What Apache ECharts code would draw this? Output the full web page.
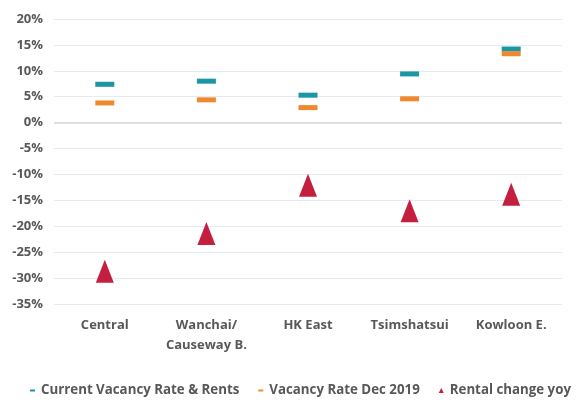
<!DOCTYPE html>
<html><head><meta charset="utf-8">
<script src="https://cdn.jsdelivr.net/npm/echarts@6/dist/echarts.min.js"></script>
<style>html,body{margin:0;padding:0;background:#fff}#c{width:577px;height:400px}</style>
</head><body><div id="c"></div>
<script>
var categories = ['Central', 'Wanchai/\nCauseway B.', 'HK East', 'Tsimshatsui', 'Kowloon E.'];
var currentVacancy = [7.4, 8.0, 5.3, 9.4, 14.2];
var vacancyDec2019 = [3.8, 4.4, 2.9, 4.6, 13.3];
var rentalChange = [-28.7, -21.4, -12.1, -17.0, -13.8];
var yTicks = [-35, -30, -25, -20, -15, -10, -5, 0, 5, 10, 15, 20];

var FONT = 'Open Sans';
var TXT = '#58585a';
var chart = echarts.init(document.getElementById('c'));
chart.setOption({
  animation: false,
  grid: {left: 54, right: 15, top: 19, bottom: 96},
  legend: {
    top: 384, left: 30, width: 560, padding: 0,
    itemWidth: 5, itemHeight: 5, itemGap: 19,
    textStyle: {fontFamily: FONT, fontWeight: 'bold', fontSize: 13.3, color: TXT, padding: [0,0,0,1]},
    data: [
      {name: 'Current Vacancy Rate & Rents', icon: 'path://M0,0h5v2h-5z'},
      {name: 'Vacancy Rate Dec 2019', icon: 'path://M0,0h5v2h-5z'},
      {name: 'Rental change yoy', icon: 'triangle'}
    ]
  },
  xAxis: {
    type: 'category', data: categories,
    axisLine: {show: false}, axisTick: {show: false},
    axisLabel: {interval: 0, fontFamily: FONT, fontWeight: 'bold', fontSize: 13, color: TXT, margin: 11, lineHeight: 20}
  },
  yAxis: {
    type: 'value', min: yTicks[0], max: yTicks[yTicks.length-1], interval: 5,
    axisLine: {show: false}, axisTick: {show: false},
    axisLabel: {fontFamily: FONT, fontWeight: 'bold', fontSize: 13, color: TXT, margin: 11,
      formatter: function(v){ return v + '%'; }},
    splitLine: {lineStyle: {color: '#e6ebf2', width: 1}}
  },
  series: [
    {name: 'Current Vacancy Rate & Rents', type: 'scatter', data: currentVacancy,
     symbol: 'rect', symbolSize: [19, 5], itemStyle: {color: '#1b96a5', opacity: 1}, z: 3,
     markLine: {silent: true, symbol: 'none', label: {show: false},
       lineStyle: {color: '#d6d6d6', type: 'solid', width: 1.5}, data: [{yAxis: 0}]}},
    {name: 'Vacancy Rate Dec 2019', type: 'scatter', data: vacancyDec2019,
     symbol: 'rect', symbolSize: [19, 5], itemStyle: {color: '#ee8a2d', opacity: 1}, z: 3},
    {name: 'Rental change yoy', type: 'scatter', data: rentalChange,
     symbol: 'triangle', symbolSize: [18, 23], itemStyle: {color: '#c51f3f', opacity: 1}, z: 3}
  ]
});
</script></body></html>
